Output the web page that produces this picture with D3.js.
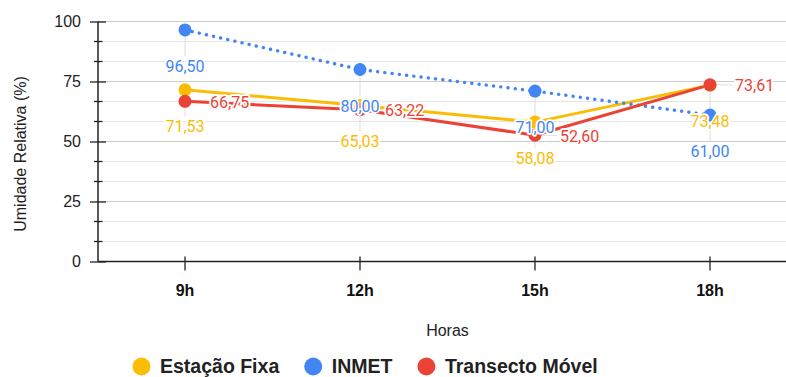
<!DOCTYPE html>
<html>
<head>
<meta charset="utf-8">
<script src="https://cdn.jsdelivr.net/npm/d3@7/dist/d3.min.js"></script>
<style>
  html, body { margin: 0; padding: 0; background: #fff; }
  svg { display: block; }
</style>
</head>
<body>
<svg id="chart" width="786" height="377"></svg>
<script>
const categories = ["9h", "12h", "15h", "18h"];
const estacaoFixa = [71.53, 65.03, 58.08, 73.48];
const inmet = [96.50, 80.00, 71.00, 61.00];
const transectoMovel = [66.75, 63.22, 52.60, 73.61];
const seriesNames = ["Estação Fixa", "INMET", "Transecto Móvel"];
const yTicks = [0, 25, 50, 75, 100];
const yMinorTicks = [8.333, 16.667, 33.333, 41.667, 58.333, 66.667, 83.333, 91.667];

const colors = ["#FBBC04", "#4285F4", "#EA4335"];
const series = [
  { name: seriesNames[0], values: estacaoFixa, color: colors[0], dash: null, label: "below" },
  { name: seriesNames[1], values: inmet, color: colors[1], dash: "0.1 7.2", label: "below" },
  { name: seriesNames[2], values: transectoMovel, color: colors[2], dash: null, label: "right" }
];

const svg = d3.select("#chart");
const axisFont = "'Liberation Sans', Arial, sans-serif";
const labelFont = "Roboto, 'Liberation Sans', Arial, sans-serif";

const x = d3.scaleBand().domain(categories).range([97.5, 797.5]).paddingInner(0).paddingOuter(0);
const cx = c => x(c) + x.bandwidth() / 2;
const y = d3.scaleLinear().domain([0, 100]).range([261.5, 21.5]);

const fmt = v => d3.format(".2f")(v).replace(".", ",");

// gridlines
const grid = svg.append("g");
grid.selectAll("line.minor").data(yMinorTicks).join("line")
  .attr("x1", 98).attr("x2", 786)
  .attr("y1", d => y(d)).attr("y2", d => y(d))
  .attr("stroke", "#e6e6e6").attr("stroke-width", 1.2);
grid.selectAll("line.major").data(yTicks.filter(d => d > 0)).join("line")
  .attr("x1", 98).attr("x2", 786)
  .attr("y1", d => y(d)).attr("y2", d => y(d))
  .attr("stroke", "#cccccc").attr("stroke-width", 1.2);

// y axis
const yAxisG = svg.append("g").attr("transform", "translate(98,0)");
yAxisG.call(d3.axisLeft(y).tickValues(yTicks).tickSize(8).tickPadding(9).tickFormat(d3.format("d")));
yAxisG.select(".domain").remove();
yAxisG.selectAll(".tick line").attr("x2", 8).attr("x1", -8).attr("stroke", "#222").attr("stroke-width", 1.3);
yAxisG.selectAll(".tick text").attr("font-family", axisFont).attr("font-size", 16).attr("fill", "#222");
yAxisG.selectAll("line.minor").data(yMinorTicks).join("line")
  .attr("class", "minor")
  .attr("x1", -4).attr("x2", 4.5)
  .attr("y1", d => y(d)).attr("y2", d => y(d))
  .attr("stroke", "#222").attr("stroke-width", 1.3);
yAxisG.append("line").attr("x1", 0).attr("x2", 0).attr("y1", y(100)).attr("y2", y(0))
  .attr("stroke", "#222").attr("stroke-width", 1.5);

// x axis
const xAxisG = svg.append("g").attr("transform", `translate(0,${y(0)})`);
xAxisG.call(d3.axisBottom(x).tickSize(9).tickPadding(14));
xAxisG.select(".domain").remove();
xAxisG.append("line").attr("x1", 98).attr("x2", 786).attr("y1", 0).attr("y2", 0)
  .attr("stroke", "#222").attr("stroke-width", 1.5);
xAxisG.selectAll(".tick line").attr("y1", -5).attr("stroke", "#222").attr("stroke-width", 1.3);
xAxisG.selectAll(".tick text").attr("font-family", axisFont).attr("font-size", 16)
  .attr("font-weight", "bold").attr("fill", "#111");

// axis titles
svg.append("text").attr("x", 447.5).attr("y", 336).attr("text-anchor", "middle")
  .attr("font-family", axisFont).attr("font-size", 16).attr("fill", "#222").text("Horas");
svg.append("text").attr("transform", "translate(26,154) rotate(-90)").attr("text-anchor", "middle")
  .attr("font-family", axisFont).attr("font-size", 16).attr("fill", "#222").text("Umidade Relativa (%)");

// stems
const stems = svg.append("g");
series.forEach(s => {
  s.values.forEach((v, i) => {
    const px = cx(categories[i]), py = y(v);
    if (s.label === "below") {
      stems.append("line").attr("x1", px).attr("x2", px).attr("y1", py).attr("y2", py + 26)
        .attr("stroke", "#dddddd").attr("stroke-width", 1);
    } else {
      stems.append("line").attr("x1", px).attr("x2", px + 22).attr("y1", py).attr("y2", py)
        .attr("stroke", "#dddddd").attr("stroke-width", 1);
    }
  });
});

// lines
const line = d3.line().x((d, i) => cx(categories[i])).y(d => y(d));
series.forEach(s => {
  const p = svg.append("path").datum(s.values)
    .attr("d", line).attr("fill", "none")
    .attr("stroke", s.color).attr("stroke-width", 3)
    .attr("stroke-linejoin", "round");
  if (s.dash) p.attr("stroke-dasharray", s.dash).attr("stroke-linecap", "round").attr("stroke-width", 3.4);
});

// points
series.forEach(s => {
  svg.append("g").selectAll("circle").data(s.values).join("circle")
    .attr("cx", (d, i) => cx(categories[i])).attr("cy", d => y(d)).attr("r", 6.5)
    .attr("fill", s.color);
});

// labels
series.forEach(s => {
  const g = svg.append("g");
  s.values.forEach((v, i) => {
    const px = cx(categories[i]), py = y(v);
    const t = g.append("text")
      .attr("font-family", labelFont).attr("font-size", 16)
      .attr("fill", s.color).attr("dominant-baseline", "central")
      .attr("stroke", "#fff").attr("stroke-width", 3.5).attr("paint-order", "stroke")
      .attr("stroke-linejoin", "round")
      .text(fmt(v));
    if (s.label === "below") {
      t.attr("x", px).attr("y", py + 36.5).attr("text-anchor", "middle");
    } else {
      t.attr("x", px + 25).attr("y", py + 1).attr("text-anchor", "start");
    }
  });
});

// legend
const legend = svg.append("g");
let lx = 132.5;
const ly = 365.5;
series.forEach(s => {
  legend.append("circle").attr("cx", lx + 9).attr("cy", ly + 1).attr("r", 9).attr("fill", s.color);
  const t = legend.append("text").attr("x", lx + 27.5).attr("y", ly).attr("dominant-baseline", "central")
    .attr("font-family", axisFont).attr("font-size", 19.5).attr("font-weight", "bold").attr("fill", "#222")
    .text(s.name);
  lx = lx + 27.5 + t.node().getComputedTextLength() + 25;
});
</script>
</body>
</html>
